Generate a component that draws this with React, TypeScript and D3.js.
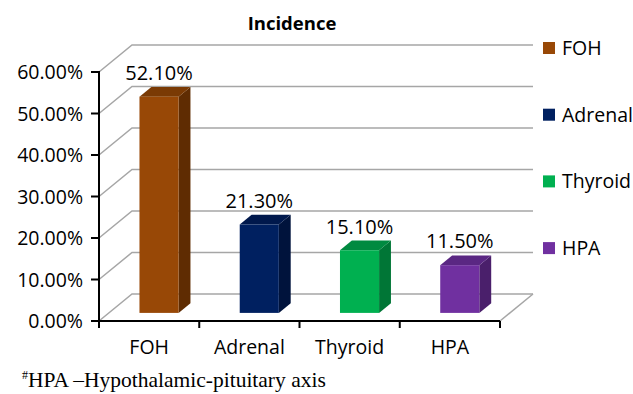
import React from "react";
import * as d3 from "d3";

const categories = ["FOH", "Adrenal", "Thyroid", "HPA"];
const values = [0.521, 0.213, 0.151, 0.115];
const yTicks = [0, 0.1, 0.2, 0.3, 0.4, 0.5, 0.6];
const frontColors = ["#984806", "#002060", "#00B050", "#7030A0"];
const sideColors = ["#5F2C02", "#00133C", "#007636", "#4A1F6B"];
const topColors = ["#7A3A04", "#00184C", "#008A40", "#5A2783"];

const W = 633;
const H = 394;
const left = 99;
const right = 500;
const bottom = 321;
const top = 72;
const depthX = 33;
const depthY = -27;
const f1 = 0.3;
const f2 = 0.66;
const FONT = "'Open Sans', sans-serif";

export default function App() {
  const x = d3.scaleBand<string>().domain(categories).range([left, right]).padding(0);
  const y = d3.scaleLinear().domain([0, 0.6]).range([bottom, top]);
  const fmt = d3.format(".2%");
  const barW = x.bandwidth() * 0.39;
  const d1x = depthX * f1, d1y = depthY * f1;
  const d2x = depthX * f2, d2y = depthY * f2;
  const grid = "#A6A6A6";

  return (
    <svg width={W} height={H} style={{ position: "absolute", left: 0, top: 0, background: "#fff" }}>
      {yTicks.map((t) => (
        <polyline
          key={t}
          points={`${left},${y(t)} ${left + depthX},${y(t) + depthY} ${right + depthX},${y(t) + depthY}`}
          fill="none"
          stroke={grid}
          strokeWidth={1.5}
        />
      ))}
      <line x1={right} y1={bottom} x2={right + depthX} y2={bottom + depthY} stroke={grid} strokeWidth={1.5} />
      {categories.map((c, i) => {
        const cx = (x(c) as number) + x.bandwidth() / 2;
        const xl = cx - barW / 2 + d1x;
        const xr = cx + barW / 2 + d1x;
        const yb = bottom + d1y;
        const yt = y(values[i]) + d1y;
        const ddx = d2x - d1x, ddy = d2y - d1y;
        return (
          <g key={c}>
            <polygon
              points={`${xr},${yt} ${xr + ddx},${yt + ddy} ${xr + ddx},${yb + ddy} ${xr},${yb}`}
              fill={sideColors[i]}
            />
            <polygon
              points={`${xl},${yt} ${xr},${yt} ${xr + ddx},${yt + ddy} ${xl + ddx},${yt + ddy}`}
              fill={topColors[i]}
            />
            <rect x={xl} y={yt} width={xr - xl} height={yb - yt} fill={frontColors[i]} />
            <text
              x={cx + d1x}
              y={yt + ddy - 7}
              textAnchor="middle"
              fontFamily={FONT}
              fontSize={20}
              fill="#000"
            >
              {fmt(values[i])}
            </text>
          </g>
        );
      })}
      <line x1={left} y1={top - 1} x2={left} y2={bottom + 1} stroke="#000" strokeWidth={2} />
      <line x1={left - 1} y1={bottom} x2={right} y2={bottom} stroke="#000" strokeWidth={2} />
      {yTicks.map((t) => (
        <g key={"yt" + t}>
          <line x1={left - 8} y1={y(t)} x2={left} y2={y(t)} stroke="#000" strokeWidth={2} />
          <text
            x={left - 16}
            y={y(t)}
            dy="0.36em"
            textAnchor="end"
            fontFamily={FONT}
            fontSize={19.5}
            fill="#000"
          >
            {fmt(t)}
          </text>
        </g>
      ))}
      {categories.map((c) => (
        <line
          key={"xt" + c}
          x1={x(c) as number}
          y1={bottom}
          x2={x(c) as number}
          y2={bottom + 7}
          stroke="#000"
          strokeWidth={2}
        />
      ))}
      <line x1={right} y1={bottom} x2={right} y2={bottom + 7} stroke="#000" strokeWidth={2} />
      {categories.map((c) => (
        <text
          key={"xl" + c}
          x={(x(c) as number) + x.bandwidth() / 2}
          y={354}
          textAnchor="middle"
          fontFamily={FONT}
          fontSize={19.5}
          fill="#000"
        >
          {c}
        </text>
      ))}
      <text x={292} y={30} textAnchor="middle" fontFamily={FONT} fontWeight="bold" fontSize={18.5} fill="#000">
        Incidence
      </text>
      {categories.map((c, i) => (
        <g key={"lg" + c} transform={`translate(543, ${48 + i * 66.7})`}>
          <rect x={0} y={-6} width={12} height={12} fill={frontColors[i]} />
          <text x={19} y={0} dy="0.36em" fontFamily={FONT} fontSize={19.5} fill="#000">
            {c}
          </text>
        </g>
      ))}
      <text x={22} y={387} fontFamily="'Liberation Serif', 'Times New Roman', serif" fontSize={21.5} fill="#000">
        <tspan fontSize={12} dy={-8}>#</tspan>
        <tspan dy={8}>HPA –Hypothalamic-pituitary axis</tspan>
      </text>
    </svg>
  );
}
